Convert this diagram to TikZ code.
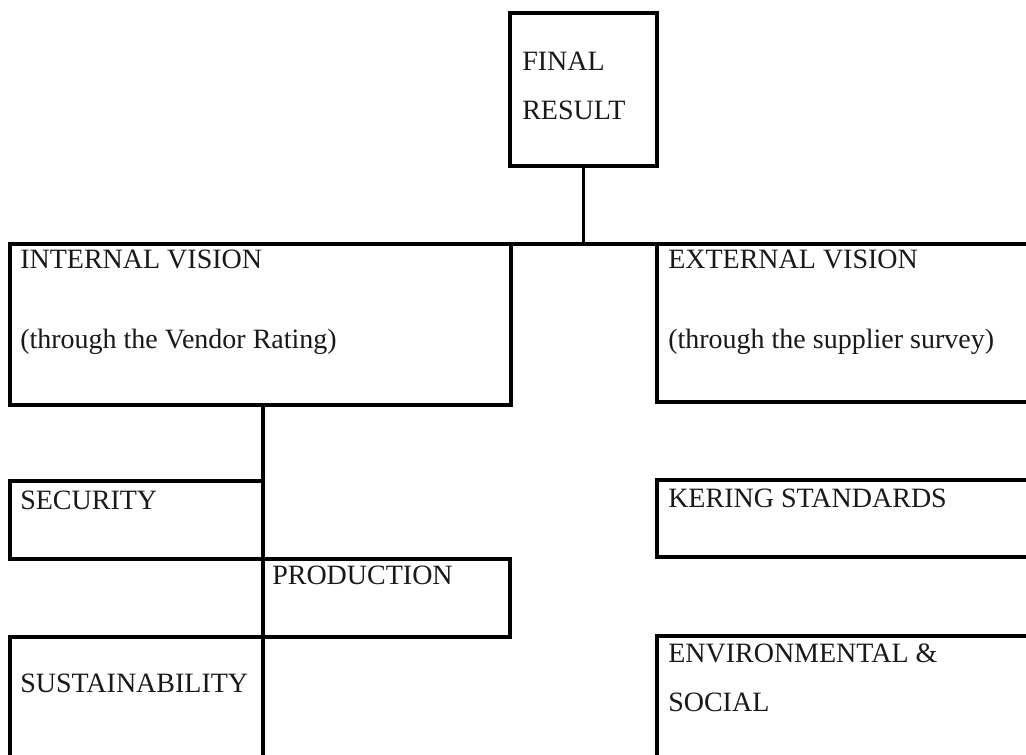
\documentclass[tikz,border=0pt]{standalone}
\usepackage{fontspec}
\setmainfont{Liberation Serif}
\begin{document}
\begin{tikzpicture}[x=0.75pt,y=-0.75pt,
  box/.style={draw=black,line width=2.4pt,rectangle,inner sep=0pt,outer sep=0pt},
  conn/.style={draw=black,line width=2.4pt},
  txt/.style={anchor=base west,inner sep=0pt,font=\fontsize{21}{25}\selectfont,text=black!90}]
\clip (0,0) rectangle (1026,755);
\fill[white] (0,0) rectangle (1026,755);
% boxes
\node[box,minimum width=147*0.75pt,minimum height=153*0.75pt] (final) at (583.5,89.5) {};
\node[box,minimum width=501*0.75pt,minimum height=161*0.75pt] (int) at (260.5,324.5) {};
\node[box,minimum width=393*0.75pt,minimum height=158*0.75pt] (ext) at (853.5,323) {};
\node[box,minimum width=253*0.75pt,minimum height=78*0.75pt] (sec) at (136.5,520) {};
\node[box,minimum width=247*0.75pt,minimum height=78*0.75pt] (prod) at (386.5,598) {};
\node[box,minimum width=253*0.75pt,minimum height=140*0.75pt] (sust) at (136.5,707) {};
\node[box,minimum width=393*0.75pt,minimum height=77*0.75pt] (ker) at (853.5,518.5) {};
\node[box,minimum width=393*0.75pt,minimum height=140*0.75pt] (env) at (853.5,706) {};
% texts
\node[txt] (t1) at (522,71) {FINAL};
\node[txt] (t2) at (522,120) {RESULT};
\node[txt] (t3) at (20,269) {INTERNAL VISION};
\node[txt] (t4) at (20,349) {(through the Vendor Rating)};
\node[txt] (t5) at (668,269) {EXTERNAL VISION};
\node[txt] (t6) at (668,349) {(through the supplier survey)};
\node[txt] (t7) at (20,510) {SECURITY};
\node[txt] (t8) at (272,585) {PRODUCTION};
\node[txt] (t9) at (20,693) {SUSTAINABILITY};
\node[txt] (t10) at (668,508) {KERING STANDARDS};
\node[txt] (t11) at (668,663) {ENVIRONMENTAL \&};
\node[txt] (t12) at (668,712) {SOCIAL};
% connectors
\draw[conn] (int.north east) -- (ext.north west);
\draw[conn] (final.south) -- (final.south |- int.north);
\draw[conn] (sec.north east |- int.south) -- (sec.north east);
\end{tikzpicture}
\end{document}
